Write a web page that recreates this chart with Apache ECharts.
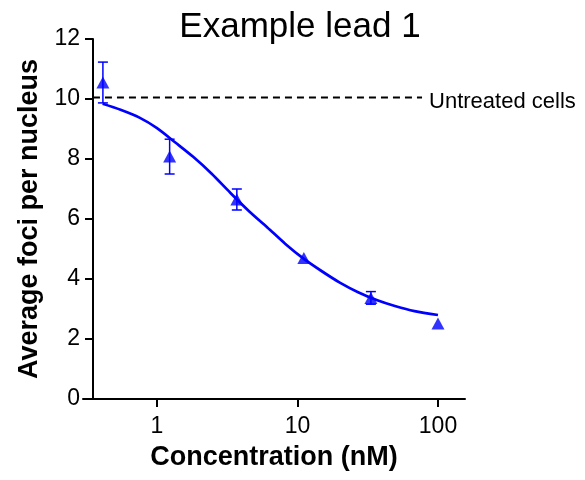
<!DOCTYPE html>
<html>
<head>
<meta charset="utf-8">
<script src="https://cdn.jsdelivr.net/npm/echarts@6/dist/echarts.min.js"></script>
<style>
  html, body { margin: 0; padding: 0; background: #fff; }
  #chart { width: 585px; height: 480px; }
</style>
</head>
<body>
<div id="chart"></div>
<script>
// Measured foci counts (mean ± error) per concentration, nM
const concentrations = [0.412, 1.23, 3.70, 11.1, 33.3, 100];
const meanFoci = [10.55, 8.08, 6.65, 4.70, 3.37, 2.52];
const errFoci = [0.68, 0.58, 0.35, 0, 0.21, 0];

// Dose-response fit curve, sampled along the concentration range
const fitConc = [0.41, 0.55, 0.75, 1.0, 1.35, 1.8, 2.45, 3.3, 4.5, 6.1, 8.2, 11.1, 15, 20, 27, 37, 50, 68, 100];
const fitFoci = [9.84, 9.64, 9.38, 9.03, 8.55, 8.08, 7.51, 6.89, 6.27, 5.72, 5.17, 4.67, 4.25, 3.88, 3.56, 3.29, 3.09, 2.93, 2.80];

// Untreated-cells reference level and its horizontal extent
const untreatedConc = [0.35, 77];
const untreatedLevel = 10.05;

// Axis ticks
const xTicks = [1, 10, 100];
const yMin = 0, yMax = 12, yStep = 2;

const BLUE = '#0000ff';
const FONT = '"Liberation Sans", Arial, Helvetica, sans-serif';

const chart = echarts.init(document.getElementById('chart'));

// Error bars are drawn only where the spread is non-zero
const errorData = concentrations
  .map((c, i) => [c, meanFoci[i] - errFoci[i], meanFoci[i] + errFoci[i], errFoci[i]])
  .filter(d => d[3] > 0);

chart.setOption({
  animation: false,
  backgroundColor: '#fff',
  title: {
    text: 'Example lead 1',
    left: 300,
    top: 10,
    padding: 0,
    textAlign: 'center',
    textStyle: { fontFamily: FONT, fontSize: 35, fontWeight: 'normal', color: '#000' }
  },
  grid: { left: 83, right: 120, top: 39, bottom: 81, containLabel: false },
  xAxis: {
    type: 'log',
    logBase: 10,
    min: 0.2973,
    max: 155.7,
    name: 'Concentration (nM)',
    nameLocation: 'middle',
    nameGap: 45,
    nameTextStyle: { fontFamily: FONT, fontSize: 27, fontWeight: 'bold', color: '#000' },
    axisLine: { show: true, onZero: false, lineStyle: { color: '#000', width: 2 } },
    axisTick: { show: true, length: 8, lineStyle: { color: '#000', width: 2 }, customValues: xTicks },
    minorTick: { show: false },
    axisLabel: {
      show: true, margin: 16, customValues: xTicks,
      fontFamily: FONT, fontSize: 23, color: '#000',
      formatter: v => String(Math.round(v * 1000) / 1000)
    },
    splitLine: { show: false }
  },
  yAxis: {
    type: 'value',
    min: yMin,
    max: yMax,
    interval: yStep,
    offset: -10,
    name: 'Average foci per nucleus',
    nameLocation: 'middle',
    nameGap: 47,
    nameTextStyle: { fontFamily: FONT, fontSize: 27, fontWeight: 'bold', color: '#000' },
    axisLine: { show: true, lineStyle: { color: '#000', width: 2 } },
    axisTick: { show: true, length: 8, lineStyle: { color: '#000', width: 2 } },
    axisLabel: { margin: 13, fontFamily: FONT, fontSize: 23, color: '#000' },
    splitLine: { show: false }
  },
  series: [
    {
      name: 'Untreated cells',
      type: 'line',
      data: untreatedConc.map(c => [c, untreatedLevel]),
      symbol: 'none',
      silent: true,
      lineStyle: { color: '#000', width: 2, type: [7, 5] },
      endLabel: {
        show: true,
        formatter: 'Untreated cells',
        distance: 7,
        offset: [0, 4],
        fontFamily: FONT, fontSize: 22, color: '#000'
      },
      z: 1
    },
    {
      name: 'Fit',
      type: 'line',
      data: fitConc.map((c, i) => [c, fitFoci[i]]),
      smooth: 0.3,
      symbol: 'none',
      lineStyle: { color: BLUE, width: 2.7 },
      z: 3
    },
    {
      name: 'Error',
      type: 'custom',
      data: errorData,
      encode: { x: 0, y: [1, 2] },
      renderItem: (params, api) => {
        const x = api.value(0);
        const lo = api.coord([x, api.value(1)]);
        const hi = api.coord([x, api.value(2)]);
        const half = 5;
        const st = { stroke: BLUE, lineWidth: 1.5 };
        return {
          type: 'group',
          children: [
            { type: 'line', shape: { x1: lo[0], y1: lo[1], x2: hi[0], y2: hi[1] }, style: st },
            { type: 'line', shape: { x1: lo[0] - half, y1: lo[1], x2: lo[0] + half, y2: lo[1] }, style: st },
            { type: 'line', shape: { x1: hi[0] - half, y1: hi[1], x2: hi[0] + half, y2: hi[1] }, style: st }
          ]
        };
      },
      z: 2
    },
    {
      name: 'Mean',
      type: 'scatter',
      data: concentrations.map((c, i) => [c, meanFoci[i]]),
      symbol: 'triangle',
      symbolSize: [13, 12],
      itemStyle: { color: BLUE },
      z: 4
    }
  ]
});
</script>
</body>
</html>
